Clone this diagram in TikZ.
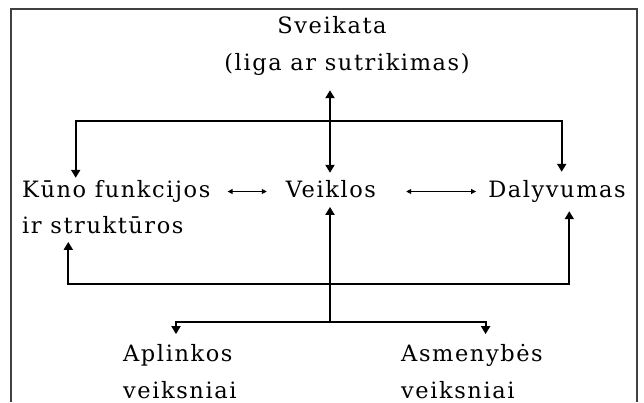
\documentclass[tikz,border=0pt]{standalone}
\usepackage{fontspec}
\setmainfont{DejaVu Serif}[LetterSpace=7]
\usetikzlibrary{arrows.meta}
\begin{document}
\begin{tikzpicture}[x=1pt,y=-1pt,
  lbl/.style={inner sep=0pt,text height=15pt,text depth=4pt,font=\fontsize{22.5}{27}\selectfont},
  bigline/.style={line width=2.6pt,-{Triangle[length=8pt,width=9pt]}},
  midline/.style={line width=1.9pt,-{Triangle[length=8pt,width=9pt]}},
  dblline/.style={line width=2.6pt,{Triangle[length=8pt,width=9pt]}-{Triangle[length=8pt,width=9pt]}},
  thinline/.style={line width=0.9pt,{Triangle[length=5pt,width=5pt]}-{Triangle[length=5pt,width=5pt]}},
  frame/.style={line width=1.2pt,draw=black!75}]
\useasboundingbox (0,0) rectangle (644,402);
\fill[white] (0,0) rectangle (644,402);
\draw[frame] (11,402) -- (11,9) -- (637,9) -- (637,402);
% texts
\node[lbl,anchor=base] (sv) at (332,33) {Sveikata};
\node[lbl,anchor=base] (liga) at (347,70) {(liga ar sutrikimas)};
\node[lbl,anchor=base west] (kuno1) at (22,197) {Kūno funkcijos};
\node[lbl,anchor=base west] (kuno2) at (22,233) {ir struktūros};
\node[lbl,anchor=base] (veik) at (331,197) {Veiklos};
\node[lbl,anchor=base] (daly) at (557,197) {Dalyvumas};
\node[lbl,anchor=base west] (apl1) at (123,361) {Aplinkos};
\node[lbl,anchor=base west] (apl2) at (123,398) {veiksniai};
\node[lbl,anchor=base west] (asm1) at (401,361) {Asmenybės};
\node[lbl,anchor=base west] (asm2) at (401,398) {veiksniai};
% junctions
\coordinate (tj) at (330,121);
\coordinate (bj) at (330,284);
\coordinate (lj) at (330,321.7);
\coordinate (tl) at (75.7,121);
\coordinate (tr) at (561.7,121);
\coordinate (bl) at (68.3,284);
\coordinate (br) at (569.3,284);
\coordinate (ll) at (176,321.7);
\coordinate (lr) at (485.6,321.7);
% connectors
\draw[dblline,shorten <=16pt,shorten >=9pt] (liga.south -| tj) -- (veik.north -| tj);
\draw[midline,shorten >=4pt] (tj) -- (tl) -- (tl |- kuno1.north);
\draw[midline,shorten >=10pt] (tj) -- (tr) -- (tr |- daly.north);
\draw[bigline,shorten >=5.7pt] (lj) -- (lj |- veik.south);
\draw[midline,shorten >=4.7pt] (bj) -- (bl) -- (bl |- kuno2.south);
\draw[midline,shorten >=10pt] (bj) -- (br) -- (br |- daly.south);
\draw[midline,shorten >=11.7pt] (lj) -- (ll) -- (ll |- apl1.north);
\draw[midline,shorten >=11.7pt] (lj) -- (lr) -- (lr |- asm1.north);
\draw[thinline,shorten <=17pt,shorten >=19pt] (kuno1.east) -- (veik.west);
\draw[thinline,shorten <=30pt,shorten >=12pt] (veik.east) -- (daly.west);
\end{tikzpicture}
\end{document}
